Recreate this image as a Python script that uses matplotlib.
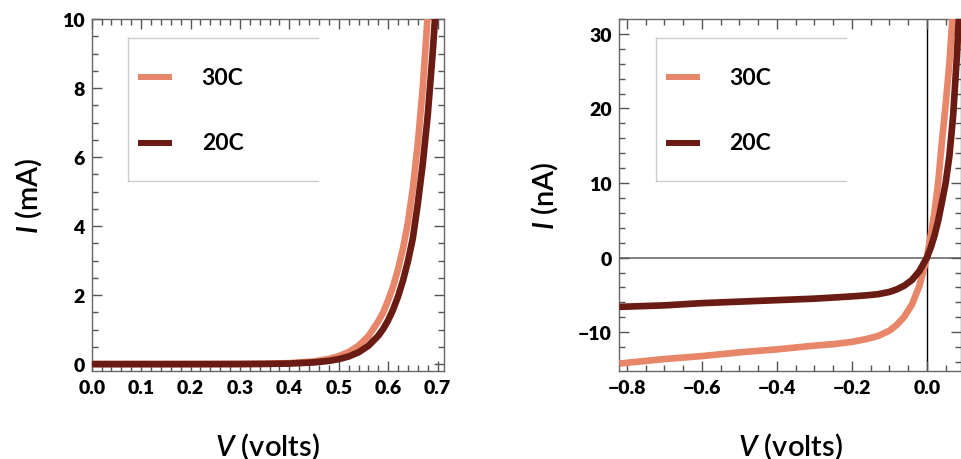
import matplotlib
matplotlib.use("Agg")
import matplotlib.pyplot as plt
from matplotlib.ticker import MultipleLocator

plt.rcParams['font.family'] = ['Lato', 'DejaVu Sans']
plt.rcParams['mathtext.fontset'] = 'custom'
plt.rcParams['mathtext.it'] = 'Lato:italic:semibold'
plt.rcParams['mathtext.rm'] = 'Lato:semibold'

# ---- data ----
labels = ['30C', '20C']
colors = ['#E8866A', '#6A1C14']

# forward bias, current in mA
v_fwd = [0.0, 0.1, 0.2, 0.3, 0.35, 0.40, 0.45, 0.48, 0.50, 0.52, 0.54, 0.56,
         0.58, 0.59, 0.60, 0.61, 0.62, 0.63, 0.64, 0.65, 0.66, 0.67, 0.68,
         0.69, 0.70, 0.71]
i_fwd_30 = [0.0, 0.0, 0.0, 0.003, 0.009, 0.027, 0.078, 0.15, 0.23, 0.35, 0.53,
            0.81, 1.24, 1.5, 1.85, 2.25, 2.75, 3.35, 4.1, 5.1, 6.4, 8.0, 10.1,
            12.6, 15.8, 19.8]
i_fwd_20 = [0.0, 0.0, 0.0, 0.002, 0.006, 0.016, 0.049, 0.093, 0.144, 0.22, 0.34,
            0.53, 0.82, 1.02, 1.27, 1.58, 1.96, 2.42, 2.98, 3.65, 4.65, 5.8,
            7.2, 9.0, 11.1, 13.9]

# around zero bias, current in nA
v_rev = [-0.82, -0.70, -0.60, -0.50, -0.40, -0.30, -0.25, -0.20, -0.16, -0.13,
         -0.10, -0.08, -0.06, -0.04, -0.02, 0.00, 0.01, 0.02, 0.03, 0.04, 0.05,
         0.06, 0.07, 0.08, 0.09]
i_rev_30 = [-14.2, -13.6, -13.2, -12.7, -12.3, -11.8, -11.6, -11.3, -10.9, -10.5,
            -9.8, -9.0, -7.9, -6.3, -3.8, 0.0, 2.9, 6.0, 10.0, 15.5, 20.5,
            26.0, 33.5, 42.0, 52.0]
i_rev_20 = [-6.6, -6.4, -6.1, -5.9, -5.7, -5.5, -5.35, -5.2, -5.05, -4.9,
            -4.6, -4.25, -3.75, -3.0, -1.8, 0.0, 1.3, 2.9, 4.9, 7.4, 10.0,
            13.6, 19.0, 27.0, 37.0]

FIG_W, FIG_H = 961, 460


def style_axes(ax, xmajor, xminor, ymajor, yminor):
    ax.xaxis.set_major_locator(MultipleLocator(xmajor))
    ax.xaxis.set_minor_locator(MultipleLocator(xminor))
    ax.yaxis.set_major_locator(MultipleLocator(ymajor))
    ax.yaxis.set_minor_locator(MultipleLocator(yminor))
    ax.tick_params(which='both', direction='in', top=True, right=True,
                   color='#555555', width=1.0)
    ax.tick_params(which='major', length=7)
    ax.tick_params(which='minor', length=4)
    ax.tick_params(axis='x', which='major', pad=6)
    ax.tick_params(axis='y', which='major', pad=5)
    for s in ax.spines.values():
        s.set_color('#666666')
        s.set_linewidth(1.0)
    for t in ax.get_xticklabels() + ax.get_yticklabels():
        t.set_fontweight('heavy')
        t.set_fontsize(14)


def add_key(ax, width_px):
    # legend box open on its right side, like the original
    def fx(px):
        return px / width_px
    tr = ax.transAxes
    x0, x1 = fx(36.5), fx(226.5)
    y0, y1 = 0.540, 0.946
    box = dict(color='#cccccc', lw=1.0, transform=tr, clip_on=False, zorder=5)
    ax.plot([x0, x1], [y1, y1], **box)
    ax.plot([x0, x1], [y0, y0], **box)
    ax.plot([x0, x0], [y0, y1], **box)
    rows = [0.834, 0.649]
    for lab, col, yy in zip(labels, colors, rows):
        ax.plot([fx(46.5), fx(80.5)], [yy, yy], color=col, lw=4.3,
                solid_capstyle='butt', transform=tr, zorder=6)
        ax.text(fx(110), yy, lab, transform=tr, fontsize=16.5, fontweight='bold',
                va='center', ha='left', zorder=6)


fig = plt.figure(figsize=(FIG_W / 100, FIG_H / 100), dpi=100)
w1 = 352.3
w2 = 342.0
ax1 = fig.add_axes([91.7 / FIG_W, 88 / FIG_H, w1 / FIG_W, 352 / FIG_H])
ax2 = fig.add_axes([619 / FIG_W, 88 / FIG_H, w2 / FIG_W, 352 / FIG_H])

# left panel: forward bias
ax1.plot(v_fwd, i_fwd_30, color=colors[0], lw=4.8, solid_capstyle='butt', zorder=3)
ax1.plot(v_fwd, i_fwd_20, color=colors[1], lw=4.8, solid_capstyle='butt', zorder=4)
ax1.set_xlim(0, 0.713)
ax1.set_ylim(-0.2, 10)
style_axes(ax1, 0.1, 0.02, 2, 0.5)
ax1.set_xlabel('$V$ (volts)', fontsize=21, labelpad=24, fontweight='semibold')
ax1.set_ylabel('$I$ (mA)', fontsize=21, labelpad=13, fontweight='semibold')
add_key(ax1, w1)

# right panel: near zero bias
ax2.axhline(0, color='#777777', lw=1.3, zorder=1)
ax2.axvline(0, color='black', lw=1.0, zorder=1)
ax2.plot(v_rev, i_rev_30, color=colors[0], lw=4.8, solid_capstyle='butt', zorder=3)
ax2.plot(v_rev, i_rev_20, color=colors[1], lw=4.8, solid_capstyle='butt', zorder=4)
ax2.set_xlim(-0.821, 0.091)
ax2.set_ylim(-15.2, 32)
style_axes(ax2, 0.2, 0.05, 10, 2)
ax2.set_xlabel('$V$ (volts)', fontsize=21, labelpad=24, fontweight='semibold')
ax2.set_ylabel('$I$ (nA)', fontsize=21, labelpad=13, fontweight='semibold')
add_key(ax2, w2)

fig.savefig('out.png', dpi=100)
